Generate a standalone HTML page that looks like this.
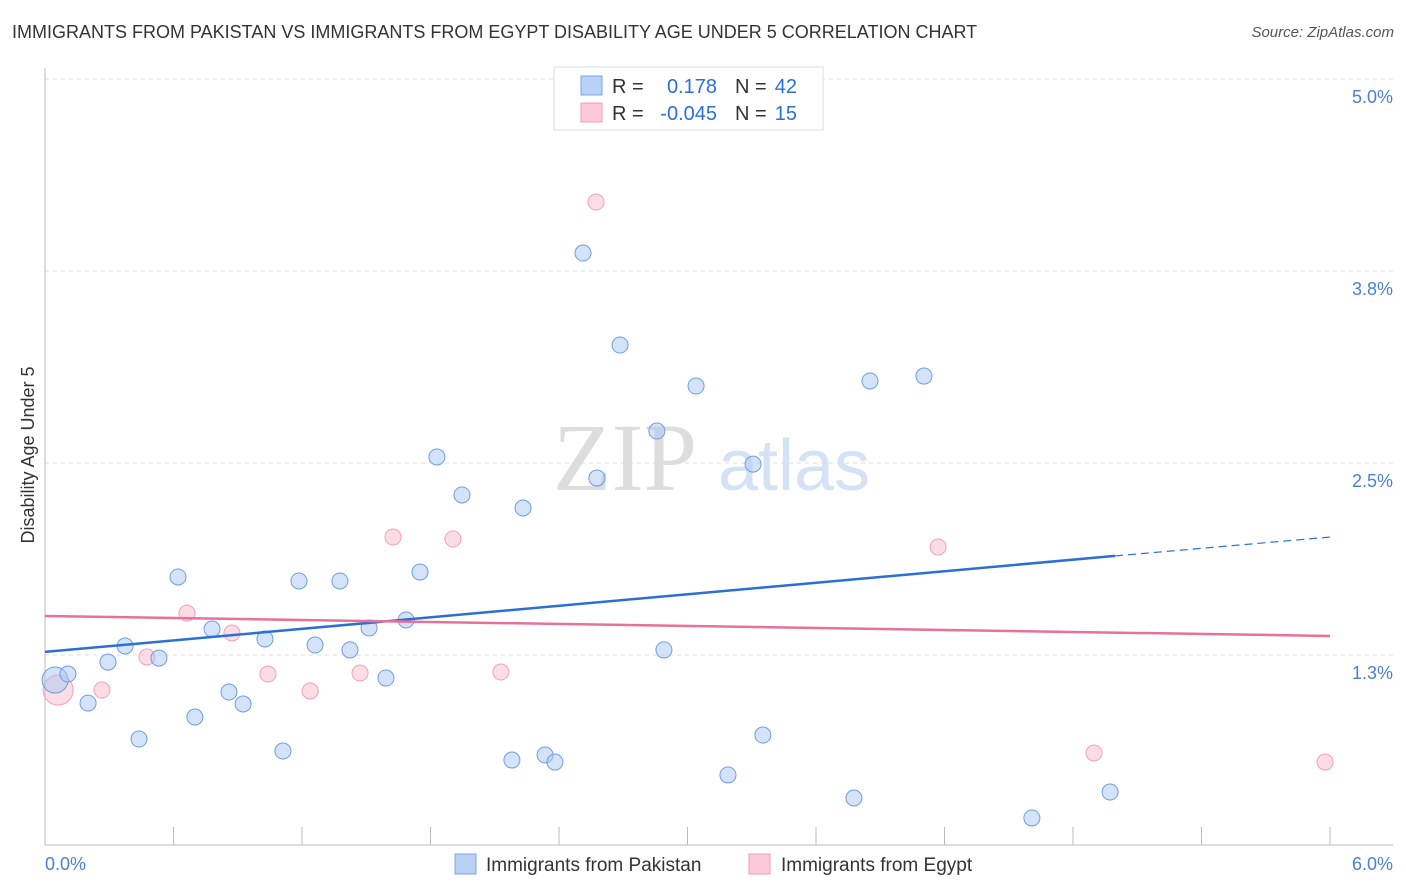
<!DOCTYPE html>
<html><head><meta charset="utf-8">
<style>
body{margin:0;background:#fff;font-family:"Liberation Sans",sans-serif;}
#wrap{position:relative;width:1406px;height:892px;overflow:hidden;}
.t{position:absolute;white-space:nowrap;}
</style></head><body>
<div id="wrap">
<div class="t" style="left:12px;top:22px;font-size:18px;color:#333;">IMMIGRANTS FROM PAKISTAN VS IMMIGRANTS FROM EGYPT DISABILITY AGE UNDER 5 CORRELATION CHART</div>
<div class="t" style="right:12px;top:24px;font-size:15px;color:#555;font-style:italic;">Source: ZipAtlas.com</div>
<svg id="svg" width="1406" height="892" style="position:absolute;left:0;top:0"></svg>
</div>
<script>
const xTicks=[0,0.6,1.2,1.8,2.4,3.0,3.6,4.2,4.8,5.4,6.0];
const yGrid=[1.25,2.5,3.75,5.0];
const yLabels=["1.3%","2.5%","3.8%","5.0%"];
const blueX=[0.047,0.107,0.201,0.294,0.374,0.439,0.532,0.621,0.700,0.780,0.859,0.925,1.027,1.111,1.186,1.261,1.377,1.424,1.513,1.592,1.686,1.751,1.830,1.947,2.180,2.232,2.335,2.381,2.512,2.577,2.685,2.857,2.890,3.040,3.189,3.306,3.352,3.777,3.852,4.104,4.608,4.973];
const blueY=[1.087,1.126,0.937,1.204,1.309,0.703,1.230,1.758,0.846,1.419,1.009,0.931,1.354,0.625,1.732,1.315,1.732,1.283,1.426,1.100,1.478,1.790,2.539,2.292,0.566,2.207,0.599,0.553,3.867,2.402,3.268,2.708,1.283,3.001,0.469,2.493,0.729,0.319,3.034,3.066,0.189,0.358];
const pinkX=[0.061,0.266,0.476,0.663,0.873,1.041,1.238,1.471,1.625,1.905,2.129,2.573,4.170,4.898,5.977];
const pinkY=[1.022,1.022,1.237,1.523,1.393,1.126,1.016,1.133,2.018,2.005,1.139,4.199,1.953,0.612,0.553];
const blueTrend=[[0,1.270],[4.996,1.895],[6,2.018]];
const pinkTrend=[[0,1.504],[6,1.374]];

const NS="http://www.w3.org/2000/svg",svg=document.getElementById('svg');
const X=v=>45+v/6*1285, Y=v=>655-(v-1.25)*153.6;
function el(tag,attrs,name,inter){const e=document.createElementNS(NS,tag);for(const k in attrs)e.setAttribute(k,attrs[k]);


svg.appendChild(e);return e;}
yGrid.forEach((g,i)=>{el('line',{x1:45,x2:1393,y1:Y(g),y2:Y(g),stroke:'#ddd','stroke-dasharray':'4,4'},'gridline');
const t=el('text',{x:1393,y:Y(g)+24,'text-anchor':'end','font-size':18,fill:'#4a7fd4'},'y-tick-label');t.textContent=yLabels[i];});
el('line',{x1:45,x2:45,y1:68,y2:845,stroke:'#bbb'},'y-axis');
el('line',{x1:45,x2:1393,y1:845,y2:845,stroke:'#bbb'},'x-axis');
xTicks.forEach(v=>el('line',{x1:X(v),x2:X(v),y1:827,y2:845,stroke:'#bbb'},'x-tick'));
let t=el('text',{x:45,y:870,'font-size':18,fill:'#4a7fd4'},'x-min-label');t.textContent="0.0%";
t=el('text',{x:1393,y:870,'text-anchor':'end','font-size':18,fill:'#4a7fd4'},'x-max-label');t.textContent="6.0%";
t=el('text',{x:34,y:455,'text-anchor':'middle','font-size':18,fill:'#333',transform:'rotate(-90 34 455)'},'y-axis-title');t.textContent="Disability Age Under 5";
t=el('text',{x:553,y:490,'font-size':96,fill:'#ddd','font-family':'Liberation Serif'},'watermark-zip');t.textContent="ZIP";
t=el('text',{x:718,y:490,'font-size':72,fill:'#d4e2f6'},'watermark-atlas');t.textContent="atlas";
pinkX.forEach((v,i)=>el('circle',{cx:X(v),cy:Y(pinkY[i]),r:i===0?15:8,fill:'rgba(248,180,200,0.45)',stroke:'#f2a0b8','stroke-width':1},'egypt-point'));
blueX.forEach((v,i)=>el('circle',{cx:X(v),cy:Y(blueY[i]),r:i===0?13:8,fill:'rgba(170,200,245,0.5)',stroke:'#6d9ee0','stroke-width':1},'pakistan-point'));
el('line',{x1:X(blueTrend[0][0]),y1:Y(blueTrend[0][1]),x2:X(blueTrend[1][0]),y2:Y(blueTrend[1][1]),stroke:'#2a6fd6','stroke-width':2.5},'pakistan-trendline');
el('line',{x1:X(blueTrend[1][0]),y1:Y(blueTrend[1][1]),x2:X(blueTrend[2][0]),y2:Y(blueTrend[2][1]),stroke:'#2a6fd6','stroke-width':1.2,'stroke-dasharray':'8,5'},'pakistan-trendline-extension');
el('line',{x1:X(pinkTrend[0][0]),y1:Y(pinkTrend[0][1]),x2:X(pinkTrend[1][0]),y2:Y(pinkTrend[1][1]),stroke:'#e8709a','stroke-width':2.5},'egypt-trendline');
// stats legend
el('rect',{x:554,y:67,width:269,height:63,fill:'#fff',stroke:'#ddd'},'stats-legend');
el('rect',{x:581,y:76,width:21,height:19,fill:'#b8d1f5',stroke:'#7aa6e3'},'pakistan-swatch');
el('rect',{x:581,y:103,width:21,height:19,fill:'#fbc9d8',stroke:'#ef9db7'},'egypt-swatch');
function txt(x,y,s,c,name,anchor){const e=el('text',{x:x,y:y,'font-size':20,fill:c,'text-anchor':anchor||'start'},name);e.textContent=s;}
txt(612,93,"R =","#333",'r-label');txt(717,93,"0.178","#2a6fd6",'r-value-pakistan','end');
txt(735,93,"N =","#333",'n-label');txt(797,93,"42","#2a6fd6",'n-value-pakistan','end');
txt(612,120,"R =","#333",'r-label');txt(717,120,"-0.045","#2a6fd6",'r-value-egypt','end');
txt(735,120,"N =","#333",'n-label');txt(797,120,"15","#2a6fd6",'n-value-egypt','end');
// bottom legend
el('rect',{x:455,y:854,width:21,height:20,fill:'#b8d1f5',stroke:'#7aa6e3'},'legend-pakistan-swatch');
t=el('text',{x:486,y:871,'font-size':19,fill:'#333'},'legend-pakistan');t.textContent="Immigrants from Pakistan";
el('rect',{x:749,y:854,width:21,height:20,fill:'#fbc9d8',stroke:'#ef9db7'},'legend-egypt-swatch');
t=el('text',{x:781,y:871,'font-size':19,fill:'#333'},'legend-egypt');t.textContent="Immigrants from Egypt";
</script>
</body></html>
